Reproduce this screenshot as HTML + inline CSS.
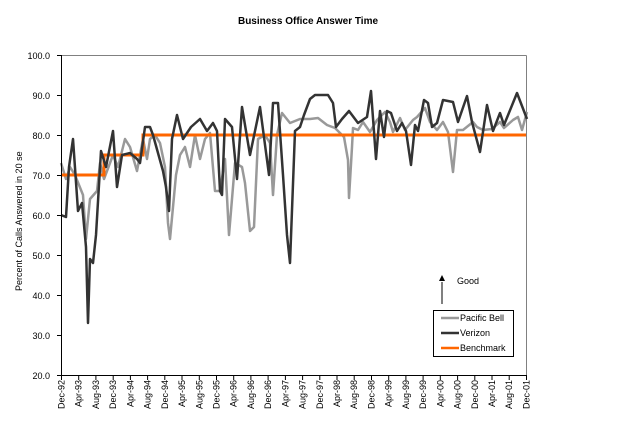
<!DOCTYPE html>
<html><head><meta charset="utf-8"><style>
html,body{margin:0;padding:0;background:#fff;}
svg{display:block;font-family:"Liberation Sans",Arial,sans-serif;}
</style></head><body>
<svg width="617" height="422" viewBox="0 0 617 422" xmlns="http://www.w3.org/2000/svg">
<text x="308" y="24" text-anchor="middle" font-size="10" font-weight="bold">Business Office Answer Time</text>
<line x1="61.5" y1="55.5" x2="526.5" y2="55.5" stroke="#808080"/>
<line x1="526.5" y1="55.5" x2="526.5" y2="375" stroke="#808080"/>
<g font-size="9" text-anchor="end">
<text x="50" y="59">100.0</text><text x="50" y="99">90.0</text><text x="50" y="139">80.0</text>
<text x="50" y="179">70.0</text><text x="50" y="219">60.0</text><text x="50" y="259">50.0</text>
<text x="50" y="299">40.0</text><text x="50" y="339">30.0</text><text x="50" y="379">20.0</text>
</g>
<g stroke="#000">
<line x1="57" y1="55.5" x2="61.5" y2="55.5"/><line x1="57" y1="95.5" x2="61.5" y2="95.5"/>
<line x1="57" y1="135.5" x2="61.5" y2="135.5"/><line x1="57" y1="175.5" x2="61.5" y2="175.5"/>
<line x1="57" y1="215.5" x2="61.5" y2="215.5"/><line x1="57" y1="255.5" x2="61.5" y2="255.5"/>
<line x1="57" y1="295.5" x2="61.5" y2="295.5"/><line x1="57" y1="335.5" x2="61.5" y2="335.5"/>
<line x1="57" y1="375.5" x2="61.5" y2="375.5"/>
</g>
<text transform="translate(22,291) rotate(-90)" font-size="9">Percent of Calls Answered in 20 se</text>
<polyline fill="none" stroke="#999999" stroke-width="2.5" stroke-linejoin="round" points="61,163 66,179 70,167 75,175 83,195 86,239 90,199 97,191 100,163 104,179 113,155 118,167 125,139 130,147 137,171 143,139 147,159 150,139 155,135 160,143 165,167 168,223 170,239 176,175 180,155 185,147 190,167 195,135 200,159 205,139 210,133 215,191 220,191 225,159 229,235 235,163 242,167 245,183 250,231 254,227 258,139 265,135 270,143 273,195 277,135 282,113 290,123 300,119 310,119 318,118 327,125 335,128 344,137 348,160 349,198 352,147 353,128 358,130 363,122 370,132 377,120 385,112 390,122 393,132 400,118 405,130 413,120 417,117 425,108 430,122 437,130 443,122 448,132 453,172 457,130 463,130 473,122 477,127 483,130 492,129 500,122 504,128 513,120 518,117 522,130 527,112"/>
<polyline fill="none" stroke="#FF6600" stroke-width="3" points="61.5,175 104,175 104,155 143,155 143,135 526,135"/>
<polyline fill="none" stroke="#333333" stroke-width="2.5" stroke-linejoin="round" points="61,215 66,217 69,167 73,139 78,211 82,203 86,247 88,323 90,259 93,263 96,235 101,151 106,167 113,131 117,187 122,155 130,153 137,159 140,163 145,127 150,127 153,135 163,171 166,187 169,211 172,139 177,115 183,139 191,127 200,119 207,131 213,123 217,131 220,191 222,195 225,119 232,127 237,179 242,107 250,155 260,107 269,175 273,103 278,103 283,175 287,235 290,263 295,131 300,127 304,115 310,99 315,95 328,95 333,103 336,127 342,119 349,111 358,123 367,117 371,91 376,159 380,111 384,137 387,111 391,113 397,131 402,123 406,131 411,165 415,125 418,131 424,100 428,103 432,127 437,123 443,100 453,102 458,122 467,96 472,122 480,152 487,105 493,131 500,113 504,125 517,93 527,119"/>
<line x1="61.5" y1="55" x2="61.5" y2="375.5" stroke="#000"/>
<line x1="61" y1="375.5" x2="527" y2="375.5" stroke="#000"/>
<line x1="442" y1="304" x2="442" y2="282" stroke="#000"/>
<polygon points="442,275 439,281 445,281" fill="#000"/>
<text x="457" y="284" font-size="9">Good</text>
<rect x="433.5" y="310.5" width="80" height="46" fill="#fff" stroke="#000"/>
<line x1="441" y1="318" x2="459" y2="318" stroke="#999999" stroke-width="2.5"/>
<line x1="441" y1="333" x2="459" y2="333" stroke="#333333" stroke-width="2.5"/>
<line x1="441" y1="348" x2="459" y2="348" stroke="#FF6600" stroke-width="2.5"/>
<text x="460" y="321" font-size="9">Pacific Bell</text>
<text x="460" y="336" font-size="9">Verizon</text>
<text x="460" y="351" font-size="9">Benchmark</text>
<g stroke="#000">
<line x1="61.5" y1="375" x2="61.5" y2="380"/><line x1="78.7" y1="375" x2="78.7" y2="380"/><line x1="95.9" y1="375" x2="95.9" y2="380"/><line x1="113.2" y1="375" x2="113.2" y2="380"/><line x1="130.4" y1="375" x2="130.4" y2="380"/><line x1="147.6" y1="375" x2="147.6" y2="380"/><line x1="164.8" y1="375" x2="164.8" y2="380"/><line x1="182" y1="375" x2="182" y2="380"/><line x1="199.3" y1="375" x2="199.3" y2="380"/><line x1="216.5" y1="375" x2="216.5" y2="380"/><line x1="233.7" y1="375" x2="233.7" y2="380"/><line x1="250.9" y1="375" x2="250.9" y2="380"/><line x1="268.1" y1="375" x2="268.1" y2="380"/><line x1="285.4" y1="375" x2="285.4" y2="380"/><line x1="302.6" y1="375" x2="302.6" y2="380"/><line x1="319.8" y1="375" x2="319.8" y2="380"/><line x1="337" y1="375" x2="337" y2="380"/><line x1="354.2" y1="375" x2="354.2" y2="380"/><line x1="371.5" y1="375" x2="371.5" y2="380"/><line x1="388.7" y1="375" x2="388.7" y2="380"/><line x1="405.9" y1="375" x2="405.9" y2="380"/><line x1="423.1" y1="375" x2="423.1" y2="380"/><line x1="440.3" y1="375" x2="440.3" y2="380"/><line x1="457.6" y1="375" x2="457.6" y2="380"/><line x1="474.8" y1="375" x2="474.8" y2="380"/><line x1="492" y1="375" x2="492" y2="380"/><line x1="509.2" y1="375" x2="509.2" y2="380"/><line x1="526.5" y1="375" x2="526.5" y2="380"/>
</g>
<g font-size="9" text-anchor="end">
<text transform="translate(64.5,380) rotate(-90)">Dec-92</text>
<text transform="translate(81.7,380) rotate(-90)">Apr-93</text>
<text transform="translate(98.9,380) rotate(-90)">Aug-93</text>
<text transform="translate(116.2,380) rotate(-90)">Dec-93</text>
<text transform="translate(133.4,380) rotate(-90)">Apr-94</text>
<text transform="translate(150.6,380) rotate(-90)">Aug-94</text>
<text transform="translate(167.8,380) rotate(-90)">Dec-94</text>
<text transform="translate(185,380) rotate(-90)">Apr-95</text>
<text transform="translate(202.3,380) rotate(-90)">Aug-95</text>
<text transform="translate(219.5,380) rotate(-90)">Dec-95</text>
<text transform="translate(236.7,380) rotate(-90)">Apr-96</text>
<text transform="translate(253.9,380) rotate(-90)">Aug-96</text>
<text transform="translate(271.1,380) rotate(-90)">Dec-96</text>
<text transform="translate(288.4,380) rotate(-90)">Apr-97</text>
<text transform="translate(305.6,380) rotate(-90)">Aug-97</text>
<text transform="translate(322.8,380) rotate(-90)">Dec-97</text>
<text transform="translate(340,380) rotate(-90)">Apr-98</text>
<text transform="translate(357.2,380) rotate(-90)">Aug-98</text>
<text transform="translate(374.5,380) rotate(-90)">Dec-98</text>
<text transform="translate(391.7,380) rotate(-90)">Apr-99</text>
<text transform="translate(408.9,380) rotate(-90)">Aug-99</text>
<text transform="translate(426.1,380) rotate(-90)">Dec-99</text>
<text transform="translate(443.3,380) rotate(-90)">Apr-00</text>
<text transform="translate(460.6,380) rotate(-90)">Aug-00</text>
<text transform="translate(477.8,380) rotate(-90)">Dec-00</text>
<text transform="translate(495,380) rotate(-90)">Apr-01</text>
<text transform="translate(512.2,380) rotate(-90)">Aug-01</text>
<text transform="translate(529.5,380) rotate(-90)">Dec-01</text>
</g>
</svg>
</body></html>
